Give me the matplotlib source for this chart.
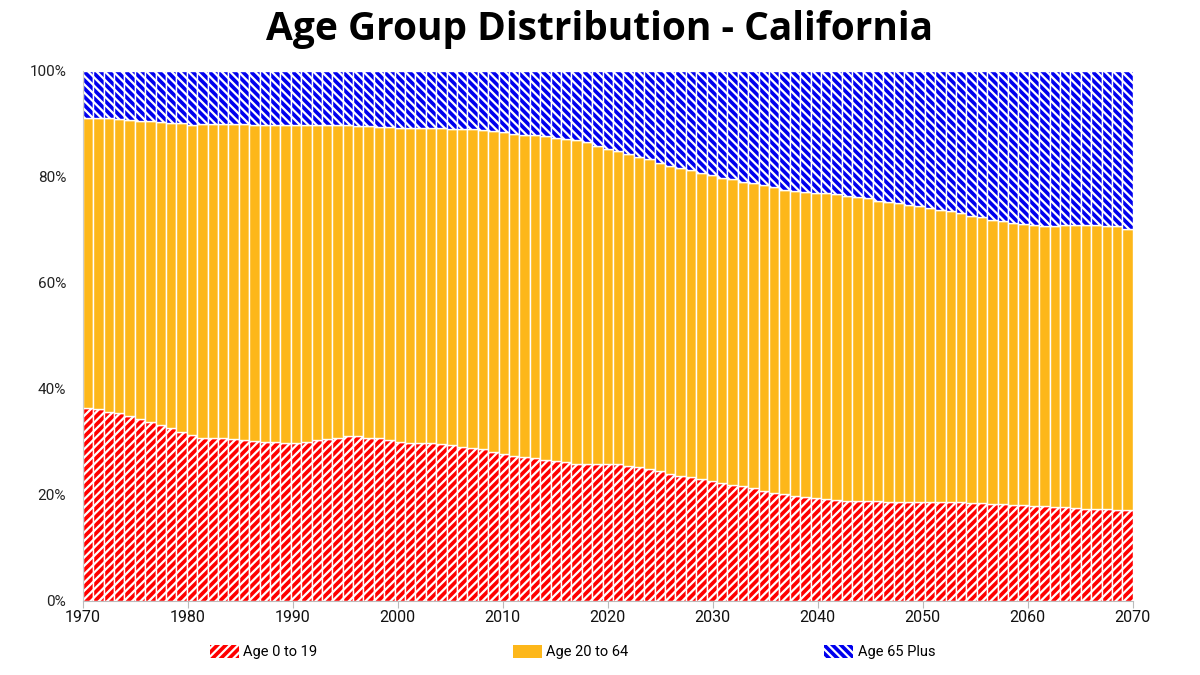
import numpy as np
import matplotlib
matplotlib.use("Agg")
import matplotlib.pyplot as plt
from matplotlib.patches import Patch

# Share of population by age group, California 1970-2070 (percent)
years = np.arange(1970, 2071)

age_0_19 = [
    36.3, 36.1, 35.7, 35.4, 34.9, 34.3, 33.8, 33.2, 32.6, 31.9,
    31.3, 30.7, 30.8, 30.7, 30.5, 30.4, 30.2, 29.9, 29.9, 29.7,
    29.7, 29.9, 30.3, 30.5, 30.8, 31.0, 31.0, 30.8, 30.8, 30.3,
    29.9, 29.8, 29.8, 29.7, 29.6, 29.3, 29.1, 28.9, 28.6, 28.0,
    27.7, 27.4, 27.1, 26.9, 26.6, 26.3, 26.1, 25.9, 25.8, 25.8,
    25.8, 25.8, 25.5, 25.2, 24.8, 24.4, 24.0, 23.6, 23.3, 23.0,
    22.6, 22.2, 21.9, 21.6, 21.3, 20.8, 20.4, 20.1, 19.8, 19.6,
    19.4, 19.2, 19.1, 18.9, 18.9, 18.9, 18.8, 18.7, 18.7, 18.6,
    18.6, 18.6, 18.6, 18.6, 18.6, 18.5, 18.4, 18.3, 18.2, 18.1,
    18.0, 17.9, 17.8, 17.7, 17.6, 17.5, 17.4, 17.4, 17.3, 17.2,
    17.2,
]

# top of the 20-64 band (= 100 minus the 65+ share)
under_65 = [
    91.1, 91.1, 91.1, 90.9, 90.8, 90.6, 90.6, 90.4, 90.1, 90.1,
    89.7, 89.9, 89.9, 89.9, 89.9, 89.9, 89.8, 89.8, 89.8, 89.7,
    89.7, 89.7, 89.7, 89.7, 89.7, 89.7, 89.6, 89.6, 89.5, 89.4,
    89.3, 89.3, 89.3, 89.3, 89.3, 89.1, 89.1, 89.1, 88.9, 88.7,
    88.4, 88.1, 87.9, 87.9, 87.7, 87.4, 87.2, 87.0, 86.5, 85.9,
    85.2, 84.8, 84.3, 83.8, 83.3, 82.7, 82.1, 81.7, 81.2, 80.7,
    80.3, 79.8, 79.6, 79.1, 78.8, 78.4, 78.1, 77.6, 77.4, 77.2,
    77.0, 76.9, 76.7, 76.4, 76.2, 76.0, 75.5, 75.3, 75.0, 74.7,
    74.5, 74.1, 73.8, 73.5, 73.2, 72.7, 72.4, 71.9, 71.6, 71.3,
    71.1, 70.9, 70.8, 70.8, 70.9, 71.0, 71.0, 71.0, 70.8, 70.8,
    70.2,
]

age_0_19 = np.array(age_0_19)
age_20_64 = np.array(under_65) - age_0_19
age_65_plus = 100 - np.array(under_65)

labels = ["Age 0 to 19", "Age 20 to 64", "Age 65 Plus"]
colors = ["#ff0000", "#fdb71a", "#0000ee"]
hatches = ["////", None, "\\\\\\\\"]

plt.rcParams["font.family"] = ["Roboto", "DejaVu Sans"]
plt.rcParams["hatch.linewidth"] = 1.6

fig = plt.figure(figsize=(12, 6.75), dpi=100)
ax = fig.add_axes([0.069, 0.11, 0.875, 0.785])

# 101 bars squeezed between the 1970 and 2070 ticks
n = len(years)
step = (years[-1] - years[0]) / n
pos = years[0] + np.arange(n) * step

bottom = np.zeros(n)
for vals, c, h in zip([age_0_19, age_20_64, age_65_plus], colors, hatches):
    ax.bar(pos, vals, width=step, bottom=bottom, align="edge", color=c,
           edgecolor="white", linewidth=1.0, hatch=h)
    bottom += vals

ax.set_xlim(years[0], years[-1])
ax.set_ylim(0, 100)
ax.set_xticks(np.arange(1970, 2071, 10))
ax.set_yticks(np.arange(0, 101, 20))
ax.set_yticklabels([f"{v}%" for v in range(0, 101, 20)])
ax.tick_params(axis="y", length=0, pad=12, labelsize=11, labelcolor="#222222")
ax.tick_params(axis="x", length=5, color="#bbbbbb", labelsize=11.5,
               labelcolor="#111111", pad=2)
for s in ["top", "right"]:
    ax.spines[s].set_visible(False)
ax.spines["left"].set_color("#cccccc")
ax.spines["bottom"].set_color("#bbbbbb")

fig.suptitle("Age Group Distribution - California", x=0.5, y=0.985,
             fontsize=28, fontweight="bold", family=["Open Sans", "DejaVu Sans"])

handles = [Patch(facecolor=c, edgecolor="white", hatch=h, linewidth=0)
           for c, h in zip(colors, hatches)]
fig.legend(handles, labels, ncol=3, loc="center", bbox_to_anchor=(0.477, 0.034),
           frameon=False, fontsize=10.5, handlelength=2.0, handleheight=1.0,
           handletextpad=0.3, columnspacing=13.4)

plt.savefig("out.png", dpi=100)
